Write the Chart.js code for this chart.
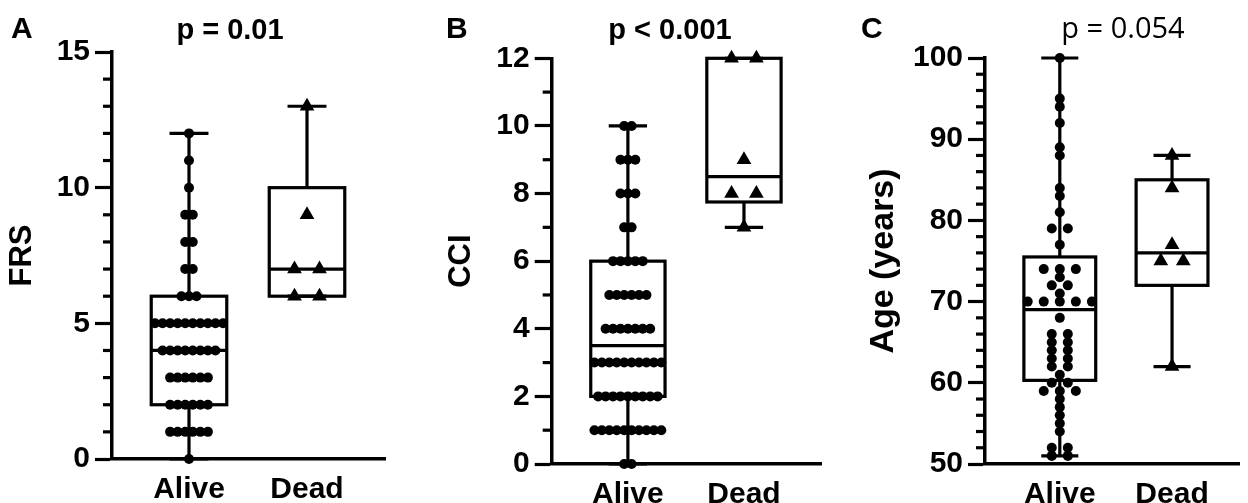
<!DOCTYPE html>
<html>
<head>
<meta charset="utf-8">
<script src="https://cdn.jsdelivr.net/npm/chart.js@4.4.1/dist/chart.umd.min.js"></script>
<style>
  html, body { margin: 0; padding: 0; background: #fff; }
  #wrap { position: relative; width: 1248px; height: 503px; overflow: hidden; }
  canvas { position: absolute; top: 0; }
  .lbl { position: absolute; font-family: "Liberation Sans", Arial, sans-serif; font-weight: bold;
         font-size: 29px; line-height: 29px; color: #000; white-space: nowrap; }
  .mid { transform: translateX(-50%); }
  .thin { font-family: "Open Sans", sans-serif; font-weight: normal; }
</style>
</head>
<body>
<div id="wrap">
  <canvas id="chartA" width="415" height="503" style="left:0px"></canvas>
  <canvas id="chartB" width="415" height="503" style="left:415px"></canvas>
  <canvas id="chartC" width="418" height="503" style="left:830px"></canvas>
  <div class="lbl" style="left:11px; top:13px; font-size:30px; line-height:30px">A</div>
  <div class="lbl" style="left:446px; top:13px; font-size:30px; line-height:30px">B</div>
  <div class="lbl" style="left:861px; top:13px; font-size:30px; line-height:30px">C</div>
  <div class="lbl mid" style="left:230px; top:15px">p = 0.01</div>
  <div class="lbl mid" style="left:670px; top:15px">p &lt; 0.001</div>
  <div class="lbl mid thin" style="left:1123px; top:12px">p = 0.054</div>
</div>
<script>
// Groups on the x axis
const groups = ['Alive', 'Dead'];

// Panel A - FRS
const frsAlive = [12, 11, 10, 9, 9, 8, 8, 7, 7, 6, 6, 6,
  5, 5, 5, 5, 5, 5, 5, 5, 5, 5,
  4, 4, 4, 4, 4, 4, 4, 4,
  3, 3, 3, 3, 3, 3,
  2, 2, 2, 2, 2, 2,
  1, 1, 1, 1, 1, 1, 0];
const frsDead = [13, 9, 7, 7, 6, 6];
// [min, q1, median, q3, max]
const frsAliveBox = [0, 2, 4, 6, 12];
const frsDeadBox = [6, 6, 7, 10, 13];

// Panel B - CCI
const cciAlive = [10, 10, 9, 9, 9, 8, 8, 8, 7, 7,
  6, 6, 6, 6, 6,
  5, 5, 5, 5, 5, 5,
  4, 4, 4, 4, 4, 4, 4,
  3, 3, 3, 3, 3, 3, 3, 3, 3, 3,
  2, 2, 2, 2, 2, 2, 2, 2, 2,
  1, 1, 1, 1, 1, 1, 1, 1, 1, 1,
  0, 0];
const cciDead = [12, 12, 9, 8, 8, 7];
const cciAliveBox = [0, 2, 3.5, 6, 10];
const cciDeadBox = [7, 7.75, 8.5, 12, 12];

// Panel C - Age
const ageAlive = [100, 95, 94, 92, 89, 88, 84, 83, 81, 79, 79, 77,
  74, 74, 74, 73, 72, 72, 71, 70, 70, 70, 70, 70, 68,
  66, 66, 65, 65, 64, 64, 63, 63, 62, 62, 61, 60, 60,
  59, 59, 59, 58, 57, 56, 55, 54, 52, 52, 51, 51];
const ageDead = [88, 84, 77, 75, 75, 62];
const ageAliveBox = [51, 60.3, 69, 75.5, 100];
const ageDeadBox = [62, 72, 76, 85, 88];

const FONT = '"Liberation Sans", Arial, sans-serif';
const BOX_W = 0.64;
const CAP_W = 0.33;

// spread equal values symmetrically around the group centre
function swarm(values, center, step) {
  const counts = {};
  values.forEach(v => { counts[v] = (counts[v] || 0) + 1; });
  const seen = {};
  return values.map(v => {
    seen[v] = (seen[v] === undefined) ? 0 : seen[v] + 1;
    return { x: center + (seen[v] - (counts[v] - 1) / 2) * step, y: v };
  });
}

const boxPlugin = {
  id: 'boxes',
  beforeDatasetsDraw(chart, args, opts) {
    const { ctx, scales: { x, y } } = chart;
    ctx.save();
    ctx.strokeStyle = '#000';
    ctx.lineWidth = 3.2;
    ctx.lineCap = 'butt';
    // minor ticks on the y axis
    const ax = chart.chartArea.left;
    for (let v = opts.yMin; v <= opts.yMax + 1e-9; v += opts.minor) {
      if (Math.abs(v / opts.major - Math.round(v / opts.major)) < 1e-6) continue;
      const py = y.getPixelForValue(v);
      ctx.beginPath();
      ctx.moveTo(ax - 9, py);
      ctx.lineTo(ax, py);
      ctx.stroke();
    }
    opts.stats.forEach((s, i) => {
      const c = i + 1;
      const [mn, q1, med, q3, mx] = s;
      const l = x.getPixelForValue(c - BOX_W / 2), r = x.getPixelForValue(c + BOX_W / 2);
      const cl = x.getPixelForValue(c - CAP_W / 2), cr = x.getPixelForValue(c + CAP_W / 2);
      const cx = x.getPixelForValue(c);
      ctx.strokeRect(l, y.getPixelForValue(q3), r - l, y.getPixelForValue(q1) - y.getPixelForValue(q3));
      ctx.beginPath();
      ctx.moveTo(l, y.getPixelForValue(med)); ctx.lineTo(r, y.getPixelForValue(med));
      ctx.moveTo(cx, y.getPixelForValue(q3)); ctx.lineTo(cx, y.getPixelForValue(mx));
      ctx.moveTo(cx, y.getPixelForValue(q1)); ctx.lineTo(cx, y.getPixelForValue(mn));
      ctx.moveTo(cl, y.getPixelForValue(mx)); ctx.lineTo(cr, y.getPixelForValue(mx));
      ctx.moveTo(cl, y.getPixelForValue(mn)); ctx.lineTo(cr, y.getPixelForValue(mn));
      ctx.stroke();
    });
    ctx.restore();
  }
};

const panels = [
  { id: 'chartA', left: 0, width: 415, axisX: 112, right: 385, top: 52, bottom: 459,
    xMin: 0.3475, xMax: 2.661, yMin: 0, yMax: 15, major: 5, minor: 1,
    title: 'FRS', titleSize: 31, titlePad: 4,
    alive: frsAlive, dead: frsDead, aliveBox: frsAliveBox, deadBox: frsDeadBox,
    aliveStep: 0.064, deadStep: 0.212 },
  { id: 'chartB', left: 415, width: 415, axisX: 551.7, right: 823, top: 58.3, bottom: 464,
    xMin: 0.3436, xMax: 2.668, yMin: 0, yMax: 12, major: 2, minor: 1,
    title: 'CCI', titleSize: 31, titlePad: 28,
    alive: cciAlive, dead: cciDead, aliveBox: cciAliveBox, deadBox: cciDeadBox,
    aliveStep: 0.064, deadStep: 0.214 },
  { id: 'chartC', left: 830, width: 418, axisX: 985, right: 1248, top: 58, bottom: 464,
    xMin: 0.3336, xMax: 2.601, yMin: 50, yMax: 100, major: 10, minor: 2,
    title: 'Age (years)', titleSize: 34, titlePad: 33,
    alive: ageAlive, dead: ageDead, aliveBox: ageAliveBox, deadBox: ageDeadBox,
    aliveStep: 0.143, deadStep: 0.2 }
];

panels.forEach(p => {
  new Chart(document.getElementById(p.id), {
    type: 'scatter',
    data: {
      datasets: [
        { label: groups[0], data: swarm(p.alive, 1, p.aliveStep), pointStyle: 'circle',
          pointRadius: 5, backgroundColor: '#000', borderWidth: 0, clip: false },
        { label: groups[1], data: swarm(p.dead, 2, p.deadStep), pointStyle: 'triangle',
          pointRadius: 8.5, backgroundColor: '#000', borderWidth: 0, clip: false }
      ]
    },
    options: {
      responsive: false,
      animation: false,
      devicePixelRatio: 1,
      layout: { padding: { top: p.top, right: p.width - (p.right - p.left), bottom: 0, left: 0 } },
      plugins: {
        legend: { display: false },
        tooltip: { enabled: false },
        boxes: { stats: [p.aliveBox, p.deadBox], yMin: p.yMin, yMax: p.yMax, major: p.major, minor: p.minor }
      },
      scales: {
        x: {
          type: 'linear', min: p.xMin, max: p.xMax,
          afterBuildTicks: s => { s.ticks = groups.map((g, i) => ({ value: i + 1 })); },
          afterFit: s => { s.height = 503 - p.bottom; },
          ticks: { callback: v => groups[Math.round(v) - 1] || '', autoSkip: false, maxRotation: 0,
                   color: '#000', font: { family: FONT, size: 30, weight: 'bold' }, padding: 13 },
          grid: { display: false, drawTicks: false },
          border: { display: true, color: '#000', width: 3.5 }
        },
        y: {
          type: 'linear', min: p.yMin, max: p.yMax,
          afterFit: s => { s.width = p.axisX - p.left; },
          ticks: { stepSize: p.major, color: '#000', font: { family: FONT, size: 30, weight: 'bold' }, padding: 5 },
          grid: { display: true, drawOnChartArea: false, drawTicks: true, tickLength: 17, tickWidth: 3.2, tickColor: '#000' },
          border: { display: true, color: '#000', width: 3.5 },
          title: { display: true, text: p.title, color: '#000',
                   font: { family: FONT, size: p.titleSize, weight: 'bold' }, padding: { top: p.titlePad, bottom: 0 } }
        }
      }
    },
    plugins: [boxPlugin]
  });
});
</script>
</body>
</html>
